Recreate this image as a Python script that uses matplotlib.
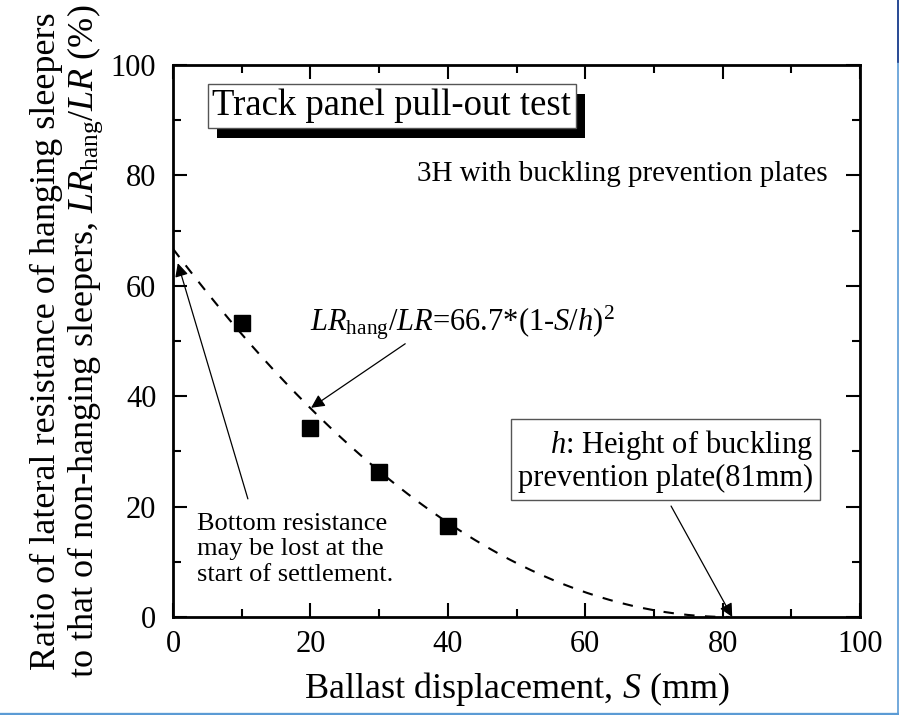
import numpy as np
import matplotlib.pyplot as plt
import matplotlib.patheffects as pe

plt.rcParams['font.family'] = ['Liberation Serif', 'DejaVu Serif']
plt.rcParams['mathtext.fontset'] = 'custom'
plt.rcParams['mathtext.rm'] = 'Liberation Serif'
plt.rcParams['mathtext.it'] = 'Liberation Serif:italic'

# Datos medidos (desplazamiento de balasto en mm, relación en %)
desplazamiento = [10, 20, 30, 40]
relacion = [53.3, 34.2, 26.2, 16.4]

# Curva de ajuste: LR_hang/LR = 66.7*(1-S/h)^2
coef = 66.7
altura_h = 81

fig = plt.figure(figsize=(8.99, 7.15), dpi=100)
ax = fig.add_axes([173 / 899, 1 - 617 / 715, 687 / 899, 552 / 715])

s = np.linspace(0, altura_h, 200)
ax.plot(s, coef * (1 - s / altura_h) ** 2, ls=(0, (5, 5)), color='black', lw=1.5)
ax.plot(desplazamiento, relacion, 's', color='black', ms=11.3)

ax.set_xlim(0, 100)
ax.set_ylim(0, 100)
ax.set_xticks([0, 20, 40, 60, 80, 100])
ax.set_yticks([0, 20, 40, 60, 80, 100])
ax.set_xticks([10, 30, 50, 70, 90], minor=True)
ax.set_yticks([10, 30, 50, 70, 90], minor=True)
ax.tick_params(which='both', direction='in', top=True, right=True, labelsize=22, width=1.5)
ax.tick_params(which='major', length=10)
ax.tick_params(which='minor', length=5.5)
ax.tick_params(axis='x', pad=9)
ax.tick_params(axis='y', pad=12)
for sp in ax.spines.values():
    sp.set_linewidth(2)

ax.set_xlabel('Ballast displacement, $\\mathit{S}$ (mm)', fontsize=26, labelpad=8)
ax.set_ylabel('Ratio of lateral resistance of hanging sleepers\n'
              'to that of non-hanging sleepers, $\\mathit{LR}_{\\mathrm{hang}}/\\mathit{LR}$ (%)',
              fontsize=26, linespacing=1.1)
ax.yaxis.set_label_coords(-0.099, 0.5)

flecha = dict(arrowstyle='-|>', color='black', lw=0.9, mutation_scale=20, shrinkA=0, shrinkB=0)

# Caja del título con sombra
titulo = ax.text(5.7, 92.6, 'Track panel pull-out test', fontsize=26.5, va='center', ha='left', zorder=5,
                 bbox=dict(boxstyle='square,pad=0.12', fc='white', ec='#555555', lw=1))
titulo.get_bbox_patch().set_path_effects([
    pe.SimplePatchShadow(offset=(6.5, -7.2), shadow_rgbFace='black', alpha=1.0),
    pe.Normal()])

ax.text(95.3, 80.3, '3H with buckling prevention plates', fontsize=21, ha='right', va='center')

# Ecuación con flecha
ax.text(20, 53.3, '$\\mathit{LR}_{\\mathrm{hang}}/\\mathit{LR}$=66.7*(1-$\\mathit{S}$/$\\mathit{h}$)$^{2}$',
        fontsize=22, va='center', ha='left')
ax.annotate('', xy=(20.1, 37.9), xytext=(33.8, 49.5), arrowprops=flecha)

# Caja de h con flecha
ax.text(93.2, 28.3, '$\\mathit{h}$: Height of buckling\nprevention plate(81mm)', fontsize=22,
        ha='right', va='center', linespacing=1.1,
        bbox=dict(boxstyle='square,pad=0.22', fc='white', ec='#555555', lw=1))
ax.annotate('', xy=(81.4, 0), xytext=(72.5, 20.1), arrowprops=flecha)

# Texto de resistencia inferior
ax.text(3.5, 12.3, 'Bottom resistance\nmay be lost at the\nstart of settlement.', fontsize=19,
        ha='left', va='center', linespacing=1.2)
ax.annotate('', xy=(0.7, 64.1), xytext=(10.9, 21.4), arrowprops=flecha)

# Borde azul de la figura
fig.add_artist(plt.Line2D([0, 1], [1.5 / 715, 1.5 / 715], color='#5b9bd5', lw=2.4, transform=fig.transFigure))
fig.add_artist(plt.Line2D([898 / 899, 898 / 899], [0, 1], color='#5b9bd5', lw=1.2, transform=fig.transFigure))
fig.add_artist(plt.Line2D([898 / 899, 898 / 899], [1 - 62 / 715, 1], color='#1f3c88', lw=1.2, transform=fig.transFigure))

fig.savefig('out.png', dpi=100)
